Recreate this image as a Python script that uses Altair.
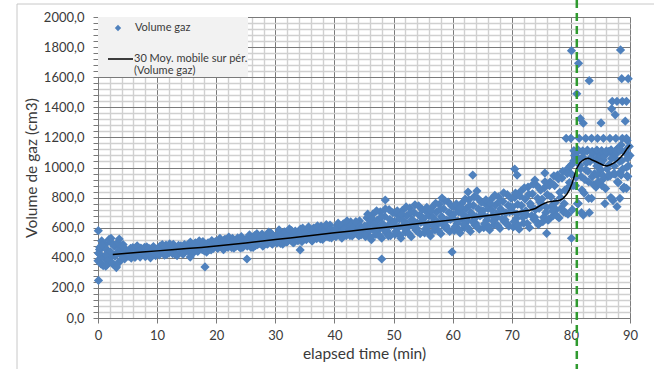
import altair as alt
import pandas as pd

# Gas volume readings (cm3): series A sampled every quarter minute from t=0,
# series B sampled every quarter minute from t=0.125
STEP_MIN = 0.25
vol_a_00_05 = [380, 455, 362, 470, 405, 490, 352, 445, 398, 500, 360, 478, 425, 495, 370, 468, 418, 488, 392, 452]
vol_a_05_10 = [440, 410, 462, 425, 455, 402, 470, 438, 418, 465, 430, 448, 408, 472, 442, 420, 460, 433, 452, 415]
vol_a_10_15 = [455, 428, 478, 440, 462, 418, 485, 450, 432, 470, 445, 490, 425, 466, 452, 436, 480, 458, 430, 472]
vol_a_15_20 = [470, 445, 495, 458, 482, 438, 500, 465, 450, 488, 472, 508, 446, 478, 492, 455, 470, 515, 462, 485]
vol_a_20_25 = [488, 462, 515, 475, 500, 455, 522, 490, 470, 508, 482, 530, 465, 498, 512, 478, 494, 540, 470, 505]
vol_a_25_30 = [505, 478, 540, 492, 522, 470, 548, 510, 488, 535, 500, 558, 482, 525, 545, 495, 515, 565, 490, 530]
vol_a_30_35 = [528, 498, 560, 512, 545, 490, 572, 530, 505, 555, 520, 580, 500, 540, 565, 515, 535, 590, 508, 550]
vol_a_35_40 = [552, 520, 585, 538, 568, 512, 598, 555, 528, 580, 545, 610, 522, 562, 590, 540, 558, 618, 532, 575]
vol_a_40_45 = [575, 540, 610, 558, 592, 530, 625, 578, 548, 605, 565, 638, 545, 585, 615, 560, 580, 645, 552, 598]
vol_a_45_50 = [600, 540, 665, 575, 630, 520, 690, 595, 555, 650, 585, 705, 530, 615, 675, 565, 610, 720, 548, 640]
vol_a_50_55 = [625, 555, 690, 598, 660, 530, 715, 620, 570, 680, 605, 730, 540, 648, 700, 585, 632, 745, 560, 668]
vol_a_55_60 = [640, 565, 710, 612, 680, 545, 735, 638, 585, 702, 625, 755, 560, 665, 725, 600, 650, 770, 575, 690]
vol_a_60_65 = [665, 580, 735, 628, 705, 565, 760, 655, 600, 725, 645, 785, 575, 690, 748, 618, 672, 795, 590, 712]
vol_a_65_70 = [690, 600, 760, 650, 728, 585, 788, 680, 620, 750, 668, 805, 595, 712, 775, 640, 698, 820, 610, 738]
vol_a_70_75 = [712, 605, 800, 660, 755, 590, 842, 700, 630, 790, 685, 870, 600, 745, 825, 655, 720, 880, 620, 770]
vol_a_75_80 = [760, 640, 865, 700, 820, 655, 905, 745, 680, 880, 720, 950, 665, 800, 930, 705, 850, 985, 690, 900]
vol_a_80_85 = [960, 720, 1045, 880, 1100, 760, 1015, 940, 1070, 830, 985, 1110, 905, 1040, 795, 1090, 960, 870, 1060, 1000]
vol_a_85_90 = [980, 880, 1050, 760, 1100, 940, 1020, 800, 1090, 960, 1060, 1120, 900, 1040, 1150, 990, 870, 1100, 1180, 1010, 1080]

vol_b_00_05 = [430, 395, 512, 348, 468, 420, 378, 522, 440, 365, 488, 410, 345, 502, 455, 385, 476, 402, 440, 425]
vol_b_05_10 = [425, 450, 398, 468, 436, 412, 480, 445, 405, 458, 426, 470, 415, 440, 462, 400, 448, 475, 428, 445]
vol_b_10_15 = [462, 420, 448, 488, 435, 470, 422, 458, 492, 440, 428, 466, 450, 415, 482, 445, 468, 425, 488, 455]
vol_b_15_20 = [478, 452, 505, 440, 470, 495, 462, 442, 512, 475, 455, 490, 468, 438, 500, 480, 452, 495, 472, 508]
vol_b_20_25 = [498, 470, 530, 482, 460, 520, 492, 475, 538, 505, 468, 515, 488, 478, 532, 495, 465, 525, 500, 485]
vol_b_25_30 = [520, 488, 552, 470, 535, 505, 480, 560, 515, 495, 545, 478, 530, 510, 490, 570, 522, 498, 548, 505]
vol_b_30_35 = [540, 510, 585, 495, 552, 528, 570, 505, 548, 592, 520, 535, 500, 578, 545, 515, 562, 530, 598, 525]
vol_b_35_40 = [565, 530, 605, 545, 515, 590, 560, 538, 612, 550, 525, 598, 570, 542, 620, 558, 535, 588, 565, 548]
vol_b_40_45 = [588, 550, 630, 565, 540, 618, 590, 555, 645, 575, 548, 622, 598, 568, 640, 580, 545, 610, 595, 572]
vol_b_45_50 = [612, 560, 690, 585, 535, 660, 620, 575, 712, 600, 548, 670, 628, 590, 725, 580, 545, 655, 615, 700]
vol_b_50_55 = [640, 575, 712, 605, 548, 690, 648, 595, 738, 625, 560, 700, 655, 610, 752, 598, 572, 682, 635, 720]
vol_b_55_60 = [662, 590, 735, 625, 565, 712, 668, 605, 762, 640, 578, 722, 675, 620, 780, 612, 590, 700, 655, 742]
vol_b_60_65 = [688, 605, 758, 645, 585, 735, 692, 622, 790, 668, 598, 748, 700, 640, 805, 630, 610, 725, 678, 768]
vol_b_65_70 = [712, 625, 785, 670, 605, 760, 718, 645, 815, 690, 615, 772, 725, 660, 832, 652, 628, 748, 705, 795]
vol_b_70_75 = [738, 640, 830, 690, 615, 810, 748, 668, 865, 712, 628, 822, 760, 680, 890, 670, 645, 795, 728, 850]
vol_b_75_80 = [790, 668, 905, 735, 650, 880, 805, 712, 945, 768, 680, 925, 835, 730, 975, 760, 700, 960, 870, 1010]
vol_b_80_85 = [1020, 880, 1080, 935, 760, 1055, 990, 850, 1100, 920, 1030, 975, 700, 1065, 940, 885, 1045, 1010, 905, 1085]
vol_b_85_90 = [1030, 920, 1075, 860, 990, 1105, 945, 1060, 780, 1010, 1090, 905, 1130, 970, 1045, 860, 1100, 1000, 940, 1140]

# Additional readings (outliers and upper levels after 80 min)
extra_time = [0.05, 0.08, 0.12, 0.30, 0.50, 0.70, 1.30, 2.20, 3.10, 3.60,
              15.6, 18.1, 25.2, 34.2, 48.0, 48.6, 58.2, 59.9, 62.6, 63.4, 64.1, 70.5, 70.9, 73.9, 75.6, 75.9, 80.1,
              80.1, 88.4, 81.3, 83.1, 88.6, 89.7, 81.0, 87.0, 87.8, 88.7, 89.4, 86.9, 87.5, 81.6, 82.1, 85.1, 89.2,
              79.2, 80.0, 81.4, 82.5, 83.5, 84.5, 85.5, 86.6, 87.6, 88.7, 89.4,
              80.5, 81.2, 82.0, 82.8, 83.6, 84.4, 85.2, 86.0, 86.8, 87.6, 88.4, 89.2,
              82.1, 81.8, 86.9, 88.3, 87.8, 83.0, 89.4, 89.6,
              84.5, 85.5, 86.5, 87.5, 88.5, 89.5]
extra_volume = [580, 250, 430, 470, 360, 485, 345, 530, 335, 525,
                405, 339, 392, 452, 392, 784, 797, 439, 837, 950, 844, 990, 950, 917, 963, 563, 530,
                1776, 1781, 1692, 1577, 1590, 1590, 1490, 1440, 1440, 1440, 1440, 1390, 1350, 1325, 1294, 1296, 1308,
                1194, 1194, 1194, 1194, 1194, 1194, 1194, 1194, 1194, 1194, 1194,
                1112, 1118, 1110, 1115, 1108, 1116, 1112, 1110, 1118, 1112, 1115, 1110,
                684, 700, 795, 795, 740, 795, 862, 1061,
                950, 945, 950, 955, 950, 945]

# 30-period moving average of the gas volume
ma_time = [2.5, 5, 7.5, 10, 12.5, 15, 17.5, 20, 22.5, 25, 27.5, 30, 32.5, 35, 37.5, 40, 42.5, 45,
           47.5, 50, 52.5, 55, 57.5, 60, 62.5, 65, 67.5, 70, 71.5, 73, 74, 75, 76, 77, 78, 78.7,
           79.3, 79.8, 80.2, 80.6, 81, 81.5, 82, 82.5, 83, 83.6, 84.2, 84.8, 85.5, 86.1, 86.7,
           87.3, 87.9, 88.5, 89, 89.5, 90]
ma_volume = [422, 430, 438, 446, 454, 461, 469, 478, 488, 498, 510, 521, 531, 543, 555, 566, 577, 588,
             598, 608, 620, 631, 641, 652, 664, 676, 688, 700, 708, 716, 728, 752, 770, 775, 780, 795,
             822, 855, 895, 945, 995, 1030, 1048, 1058, 1062, 1050, 1040, 1028, 1015, 1010, 1018,
             1030, 1048, 1072, 1095, 1125, 1150]

# Time marker (min)
marker_time = [81.0]

series_a = (vol_a_00_05 + vol_a_05_10 + vol_a_10_15 + vol_a_15_20 + vol_a_20_25 + vol_a_25_30 +
            vol_a_30_35 + vol_a_35_40 + vol_a_40_45 + vol_a_45_50 + vol_a_50_55 + vol_a_55_60 +
            vol_a_60_65 + vol_a_65_70 + vol_a_70_75 + vol_a_75_80 + vol_a_80_85 + vol_a_85_90)
series_b = (vol_b_00_05 + vol_b_05_10 + vol_b_10_15 + vol_b_15_20 + vol_b_20_25 + vol_b_25_30 +
            vol_b_30_35 + vol_b_35_40 + vol_b_40_45 + vol_b_45_50 + vol_b_50_55 + vol_b_55_60 +
            vol_b_60_65 + vol_b_65_70 + vol_b_70_75 + vol_b_75_80 + vol_b_80_85 + vol_b_85_90)
scatter_df = pd.DataFrame({
    "time": [i * STEP_MIN for i in range(len(series_a))]
            + [0.125 + i * STEP_MIN for i in range(len(series_b))]
            + extra_time,
    "volume": series_a + series_b + extra_volume,
})
ma_df = pd.DataFrame({"time": ma_time, "volume": ma_volume})
marker_df = pd.DataFrame({"time": marker_time})

FONT = "Lato"
TEXT = "#3a3a3a"
MAJOR = "#7a7a7a"
MINOR = "#d0d0d0"
BLUE = "#4f81bd"

x_axis = alt.Axis(
    values=list(range(0, 91, 2)),
    labelExpr="datum.value % 10 === 0 ? datum.label : ''",
    format="d",
    labelOverlap=False, labelFlush=False,
    labelFontSize=13, labelColor=TEXT, labelPadding=6,
    title="elapsed time (min)", titleFontSize=15.5, titleColor=TEXT,
    titleFontWeight="normal", titlePadding=4,
    grid=True,
    gridColor={"condition": {"test": "datum.value % 10 === 0", "value": MAJOR}, "value": MINOR},
    gridWidth={"condition": {"test": "datum.value % 10 === 0", "value": 1}, "value": 1.4},
    tickSize=5, tickColor=MAJOR,
    tickOpacity={"condition": {"test": "datum.value % 10 === 0", "value": 1}, "value": 0},
    domainColor=MAJOR,
)
y_axis = alt.Axis(
    values=list(range(0, 2001, 40)),
    labelExpr="datum.value % 200 === 0 ? replace(format(datum.value, '.1f'), '.', ',') : ''",
    labelOverlap=False, labelFlush=False,
    labelFontSize=13, labelColor=TEXT, labelPadding=9,
    title="Volume de gaz (cm3)", titleFontSize=15.5, titleColor=TEXT,
    titleFontWeight="normal", titlePadding=4,
    grid=True,
    gridColor={"condition": {"test": "datum.value % 200 === 0", "value": MAJOR}, "value": MINOR},
    gridWidth={"condition": {"test": "datum.value % 200 === 0", "value": 1}, "value": 1.4},
    tickSize=5, tickColor=MAJOR,
    domainColor=MAJOR,
)

X = alt.X("time:Q", scale=alt.Scale(domain=[0, 90], nice=False, zero=False), axis=x_axis)
Y = alt.Y("volume:Q", scale=alt.Scale(domain=[0, 2000], nice=False), axis=y_axis)

points = alt.Chart(scatter_df).mark_point(
    shape="diamond", filled=True, size=85, color=BLUE, opacity=1
).encode(x=X, y=Y)

moving_avg = alt.Chart(ma_df).mark_line(color="black", strokeWidth=1.5).encode(x=X, y=Y)

marker = alt.Chart(marker_df).mark_rule(
    color="#2f9a2f", strokeWidth=2.5, strokeDash=[8, 5]
).encode(x=X, y=alt.value(-17), y2=alt.value(352))

# Legend box
legend_bg = alt.Chart(marker_df).mark_rect(color="#f2f2f2").encode(
    x=alt.value(0), x2=alt.value(150), y=alt.value(0), y2=alt.value(60)
)
legend_pt = alt.Chart(marker_df).mark_point(
    shape="diamond", filled=True, size=40, color=BLUE, opacity=1
).encode(x=alt.value(20), y=alt.value(11))
legend_line = alt.Chart(marker_df).mark_rule(color="black", strokeWidth=1.5).encode(
    x=alt.value(10), x2=alt.value(35), y=alt.value(42)
)
legend_style = dict(align="left", baseline="middle", font=FONT, fontSize=11, color=TEXT)
legend_txt1 = alt.Chart(marker_df).mark_text(**legend_style).encode(
    x=alt.value(37), y=alt.value(11), text=alt.value("Volume gaz"))
legend_txt2 = alt.Chart(marker_df).mark_text(**legend_style).encode(
    x=alt.value(36), y=alt.value(42), text=alt.value("30 Moy. mobile sur pér."))
legend_txt3 = alt.Chart(marker_df).mark_text(**legend_style).encode(
    x=alt.value(36), y=alt.value(54), text=alt.value("(Volume gaz)"))

# Chart-area frame
frame_left = alt.Chart(marker_df).mark_rule(color="#c8c8c8", strokeWidth=1).encode(
    x=alt.value(-81), y=alt.value(-13), y2=alt.value(352)
)
frame_top = alt.Chart(marker_df).mark_rule(color="#c8c8c8", strokeWidth=1).encode(
    x=alt.value(-81), x2=alt.value(556), y=alt.value(-13)
)

chart = alt.layer(
    frame_left, frame_top, points, moving_avg,
    legend_bg, legend_pt, legend_line, legend_txt1, legend_txt2, legend_txt3,
    marker,
).properties(
    width=532, height=301,
    autosize=alt.AutoSizeParams(type="none"),
    padding={"left": 98, "top": 17, "right": 24, "bottom": 51},
    background="white",
).configure_view(stroke=None).configure(font=FONT)

chart.save("out.html", embed_options={"renderer": "svg", "actions": False})
